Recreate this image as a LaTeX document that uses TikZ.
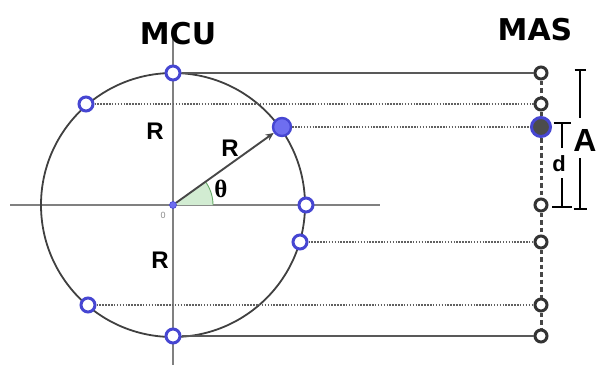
\documentclass[tikz,border=0pt]{standalone}
\usepackage{fontspec}
\setmainfont{Liberation Sans}
\newfontfamily\titlefont{DejaVu Sans}
\newfontfamily\thetafont{Liberation Serif}
\usetikzlibrary{arrows.meta}
\definecolor{ptblue}{RGB}{70,70,210}
\definecolor{ptfill}{RGB}{110,110,240}
\definecolor{wedge}{RGB}{210,236,210}
\begin{document}
\begin{tikzpicture}[x=1pt,y=-1pt,
  axisline/.style={draw=black!50, line width=1.8pt},
  orbit/.style={draw=black!75, line width=1.8pt},
  openpt/.style={circle, draw=ptblue, fill=white, line width=3pt, minimum size=14pt, inner sep=0pt},
  bigpt/.style={circle, draw=ptblue, fill=ptfill, line width=2.4pt, minimum size=18pt, inner sep=0pt},
  centerpt/.style={circle, fill=ptfill, draw=ptblue, line width=0.6pt, minimum size=7pt, inner sep=0pt},
  masopen/.style={circle, draw=black!80, fill=white, line width=3pt, minimum size=12pt, inner sep=0pt},
  masbig/.style={circle, draw=ptblue, fill=black!70, line width=3pt, minimum size=19pt, inner sep=0pt},
  solidlink/.style={draw=black!65, line width=1.8pt},
  dotlink/.style={draw=black!62, line width=2.3pt, dash pattern=on 1.5pt off 1.4pt},
  masline/.style={draw=black!72, line width=3pt, dash pattern=on 4.5pt off 3pt},
  radarrow/.style={draw=black!72, line width=1.9pt, -{Stealth[length=8pt,width=7pt]}},
  dimbar/.style={draw=black, line width=2.2pt},
  title/.style={font=\titlefont\bfseries\fontsize{30}{30}\selectfont},
  lbl/.style={font=\bfseries\fontsize{24}{24}\selectfont, inner sep=0pt},
  ticklbl/.style={font=\fontsize{9}{9}\selectfont, text=black!45, inner sep=0pt}
]
\useasboundingbox (0,0) rectangle (596,365);
% axes
\draw[axisline] (10,205) -- (380,205);
\draw[axisline] (173,33) -- (173,365);
% angle wedge
\fill[wedge] (173,205) -- (213,205) arc[start angle=0, end angle=35.6, radius=40pt] -- cycle;
\draw[green!45!black!60, line width=0.9pt] (213,205) arc[start angle=0, end angle=35.6, radius=40pt];
% circle
\draw[orbit] (173,205) circle[radius=132pt];
% MCU points
\node[centerpt] (o) at (173,205) {};
\node[openpt] (c1) at (173,73) {};
\node[openpt] (c2) at (86,104) {};
\node[bigpt] (c3) at (282,127) {};
\node[openpt] (c4) at (306,205) {};
\node[openpt] (c5) at (300,242) {};
\node[openpt] (c6) at (88,305) {};
\node[openpt] (c7) at (173,336) {};
% MAS points
\node[masopen] (r1) at (541,73) {};
\node[masopen] (r2) at (541,104) {};
\node[masbig] (r3) at (541,127) {};
\node[masopen] (r4) at (541,205) {};
\node[masopen] (r5) at (541,242) {};
\node[masopen] (r6) at (541,305) {};
\node[masopen] (r7) at (541,336) {};
% projection lines
\draw[solidlink] (c1) -- (r1);
\draw[dotlink] (c2) -- (r2);
\draw[dotlink] (c3) -- (r3);
\draw[dotlink] (c5) -- (r5);
\draw[dotlink] (c6) -- (r6);
\draw[solidlink] (c7) -- (r7);
% MAS dashed track
\draw[masline] (r1) -- (r2);
\draw[masline] (r2) -- (r3);
\draw[masline] (r3) -- (r4);
\draw[masline] (r4) -- (r5);
\draw[masline] (r5) -- (r6);
\draw[masline] (r6) -- (r7);
% radius
\draw[radarrow] (o) -- (c3);
% labels
\node[title] (mcu) at (178,34) {MCU};
\node[title] (mas) at (535,30) {MAS};
\node[lbl] (R1) at (155,131) {R};
\node[lbl] (R2) at (230,148) {R};
\node[lbl] (R3) at (160,260) {R};
\node[font=\thetafont\bfseries\fontsize{25}{25}\selectfont, inner sep=0pt] (th) at (221,189) {θ};
\node[ticklbl] (zero) at (163,215) {0};
% amplitude bar
\node[lbl, font=\bfseries\fontsize{32}{32}\selectfont] (A) at (585,140) {A};
\coordinate (a1) at (580,70);
\coordinate (a2) at (580,118);
\coordinate (a3) at (580,158);
\coordinate (a4) at (580,209);
\draw[dimbar] (a1) -- (a2);
\draw[dimbar] (a3) -- (a4);
\draw[dimbar] ([xshift=-5.5pt]a1) -- ([xshift=5.5pt]a1);
\draw[dimbar] ([xshift=-6.5pt]a4) -- ([xshift=6.5pt]a4);
% displacement bar
\node[lbl, font=\bfseries\fontsize{22}{22}\selectfont] (d) at (559,164) {d};
\coordinate (d1) at (562,123);
\coordinate (d2) at (562,148);
\coordinate (d3) at (562,178);
\coordinate (d4) at (562,207);
\draw[dimbar] (d1) -- (d2);
\draw[dimbar] (d3) -- (d4);
\draw[dimbar] ([xshift=-8.5pt]d1) -- ([xshift=8.5pt]d1);
\draw[dimbar, line width=2.8pt] ([xshift=-10pt]d4) -- ([xshift=10pt]d4);
\end{tikzpicture}
\end{document}
